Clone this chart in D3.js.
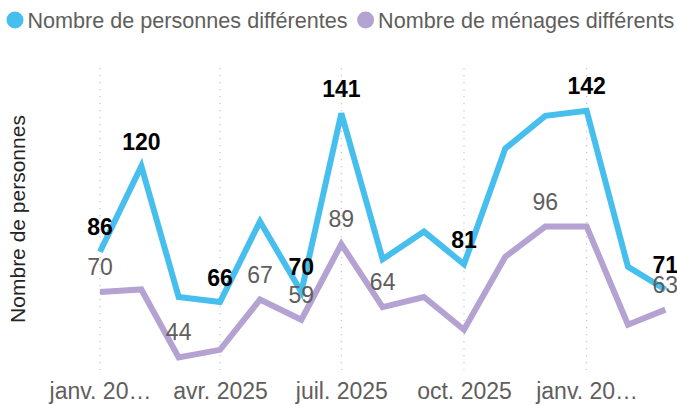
<!DOCTYPE html>
<html>
<head>
<meta charset="utf-8">
<script src="https://cdn.jsdelivr.net/npm/d3@7"></script>
<style>
  html, body { margin: 0; padding: 0; background: #fff; }
  svg { display: block; font-family: "Liberation Sans", Arial, sans-serif; }
</style>
</head>
<body>
<svg width="677" height="405"></svg>
<script>
// données (un point par mois, janv. 2025 -> mars 2026)
const months = ["2025-01","2025-02","2025-03","2025-04","2025-05","2025-06","2025-07","2025-08",
                "2025-09","2025-10","2025-11","2025-12","2026-01","2026-02","2026-03"];
const personnes = [86,120,68,66,98,70,141,83,94,81,127,140,142,80,71];
const menages   = [70,71,44,47,67,59,89,64,68,55,84,96,96,57,63];

// points qui portent une étiquette
const labelsPersonnes = ["2025-01","2025-02","2025-04","2025-06","2025-07","2025-10","2026-01","2026-03"];
const labelsMenages   = ["2025-01","2025-03","2025-05","2025-06","2025-07","2025-08","2025-12","2026-03"];

const tickMonths = ["2025-01","2025-04","2025-07","2025-10","2026-01"];
const tickLabels = ["janv. 20…","avr. 2025","juil. 2025","oct. 2025","janv. 20…"];

const seriesNames = ["Nombre de personnes différentes","Nombre de ménages différents"];
const yTitle = "Nombre de personnes";

const blue = "#47BFEE";
const purple = "#B4A2D2";
const gray = "#605E5C";

const parse = d3.utcParse("%Y-%m");
const svg = d3.select("svg");

const x = d3.scaleUtc()
    .domain([parse("2025-01"), parse("2026-03")])
    .range([100, 665.3]);
const y = d3.scaleLinear()
    .domain([39, 159])
    .range([370, 68]);

// grille verticale en pointillés
svg.append("g")
    .selectAll("line")
    .data(tickMonths)
    .enter()
    .append("line")
    .attr("x1", d => x(parse(d)))
    .attr("x2", d => x(parse(d)))
    .attr("y1", 68)
    .attr("y2", 370)
    .attr("stroke", "#C8C6C4")
    .attr("stroke-width", 1.2)
    .attr("stroke-dasharray", "1.2,5.8");

// axe x (texte seulement)
const xAxis = d3.axisBottom(x)
    .tickValues(tickMonths.map(parse))
    .tickFormat((d, i) => tickLabels[i])
    .tickSize(0)
    .tickPadding(0);
const gx = svg.append("g")
    .attr("transform", "translate(0,382)")
    .call(xAxis);
gx.select(".domain").remove();
gx.selectAll("text")
    .attr("dy", "0.72em")
    .attr("y", 0)
    .style("font-size", "23px")
    .style("font-family", "Liberation Sans, Arial, sans-serif")
    .attr("fill", gray);

// titre axe y
svg.append("text")
    .attr("transform", "translate(25,219) rotate(-90)")
    .attr("text-anchor", "middle")
    .style("font-size", "21px")
    .attr("fill", "#252423")
    .text(yTitle);

const line = d3.line()
    .x(d => x(parse(d.m)))
    .y(d => y(d.v));

const dataP = months.map((m, i) => ({m: m, v: personnes[i]}));
const dataM = months.map((m, i) => ({m: m, v: menages[i]}));

svg.append("path")
    .datum(dataM)
    .attr("fill", "none")
    .attr("stroke", purple)
    .attr("stroke-width", 6)
    .attr("stroke-linejoin", "miter")
    .attr("d", line);

svg.append("path")
    .datum(dataP)
    .attr("fill", "none")
    .attr("stroke", blue)
    .attr("stroke-width", 6)
    .attr("stroke-linejoin", "miter")
    .attr("d", line);

// étiquettes
svg.append("g")
    .selectAll("text")
    .data(dataM.filter(d => labelsMenages.indexOf(d.m) > -1))
    .enter()
    .append("text")
    .attr("x", d => x(parse(d.m)))
    .attr("y", d => y(d.v) - 17)
    .attr("text-anchor", "middle")
    .style("font-size", "23px")
    .attr("fill", gray)
    .text(d => d.v);

svg.append("g")
    .selectAll("text")
    .data(dataP.filter(d => labelsPersonnes.indexOf(d.m) > -1))
    .enter()
    .append("text")
    .attr("x", d => x(parse(d.m)))
    .attr("y", d => y(d.v) - 16.5)
    .attr("text-anchor", "middle")
    .style("font-size", "23px")
    .style("font-weight", "bold")
    .attr("fill", "#000")
    .text(d => d.v);

// légende
const legend = svg.append("g");
let lx = 15;
seriesNames.forEach(function (name, i) {
    legend.append("circle")
        .attr("cx", lx)
        .attr("cy", 20)
        .attr("r", 8.5)
        .attr("fill", i === 0 ? blue : purple);
    const t = legend.append("text")
        .attr("x", lx + 12.5)
        .attr("y", 27.5)
        .style("font-size", "21.6px")
        .attr("fill", gray)
        .text(name);
    lx = lx + 12.5 + t.node().getComputedTextLength() + 18;
});
</script>
</body>
</html>
